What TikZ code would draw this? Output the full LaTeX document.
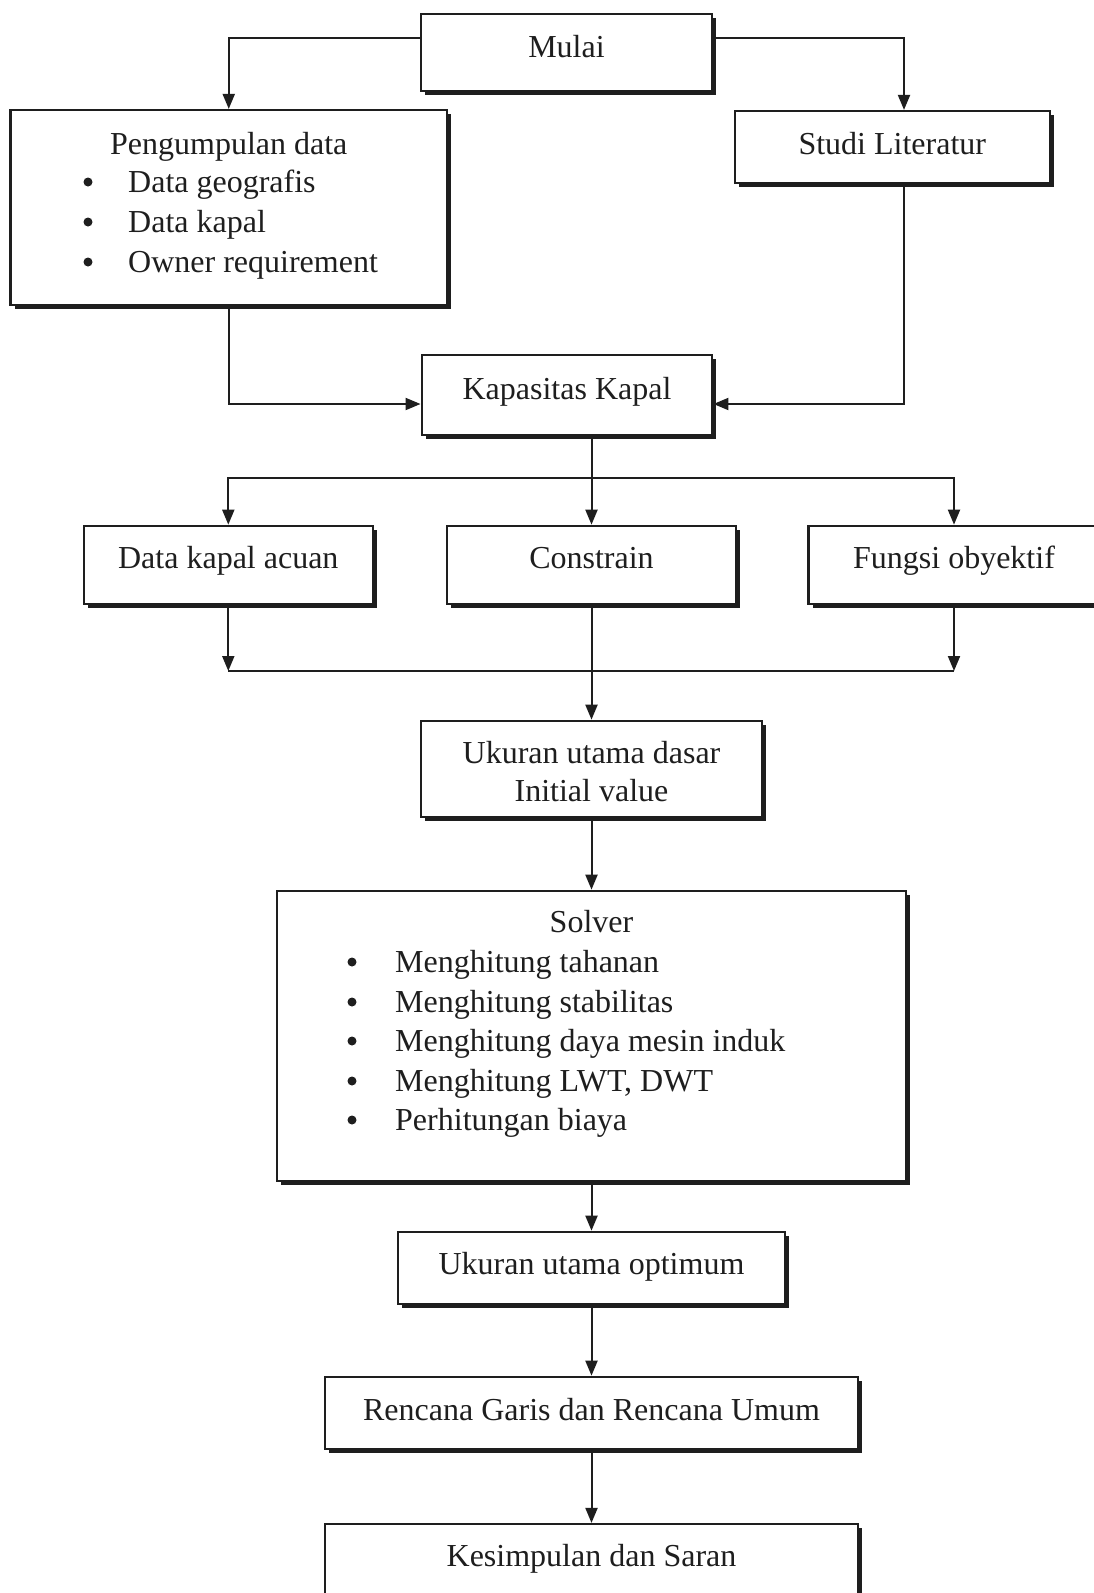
\documentclass[tikz,border=0pt]{standalone}
\usepackage{fontspec}
\setmainfont{Liberation Serif}
\usetikzlibrary{arrows.meta,shadows}
\definecolor{ink}{HTML}{1E1E1E}
\begin{document}
\begin{tikzpicture}[x=1pt,y=-1pt,
  box/.style={draw=ink,line width=2.2pt,fill=white,rectangle,inner sep=0pt,
    drop shadow={shadow xshift=4pt,shadow yshift=-4pt,fill=ink,opacity=1}},
  txt/.style={font=\fontsize{32}{40}\selectfont,text=ink,inner sep=0pt},
  dot/.style={circle,fill=ink,inner sep=0pt,minimum size=9pt},
  arr/.style={draw=ink,line width=2pt,-{Triangle[length=15pt,width=12pt]}},
  ln/.style={draw=ink,line width=2pt}]
\useasboundingbox (0,0) rectangle (1093,1593);
\fill[white] (0,0) rectangle (1093,1593);

% boxes
\node[box,minimum width=291pt,minimum height=77pt] (mulai) at (566.5,52.5) {};
\node[box,minimum width=436.5pt,minimum height=195pt] (peng) at (228.75,207.5) {};
\node[box,minimum width=315.4pt,minimum height=72pt] (studi) at (892.3,147) {};
\node[box,minimum width=290.7pt,minimum height=80pt] (kap) at (567,395) {};
\node[box,minimum width=289.4pt,minimum height=78.3pt] (acuan) at (228.3,564.9) {};
\node[box,minimum width=289pt,minimum height=78.3pt] (cons) at (591.5,564.9) {};
\node[box,minimum width=291pt,minimum height=78.3pt] (fungsi) at (954,564.9) {};
\node[box,minimum width=340.5pt,minimum height=96.3pt] (dasar) at (591.5,768.9) {};
\node[box,minimum width=629.2pt,minimum height=290.3pt] (solver) at (591.5,1035.9) {};
\node[box,minimum width=387pt,minimum height=72.3pt] (optimum) at (591.5,1267.9) {};
\node[box,minimum width=533.4pt,minimum height=72.3pt] (rencana) at (591.5,1412.9) {};
\node[box,minimum width=533.4pt,minimum height=76pt] (kesimpulan) at (591.5,1562) {};

% texts
\node[txt,anchor=mid] (tmulai) at (566.5,55) {Mulai};
\node[txt,anchor=mid] (tpeng) at (228.75,152) {Pengumpulan data};
\node[dot] (bp1) at (88,182) {};
\node[dot] (bp2) at (88,222) {};
\node[dot] (bp3) at (88,262) {};
\node[txt,anchor=mid west] (ip1) at (128,190) {Data geografis};
\node[txt,anchor=mid west] (ip2) at (128,230) {Data kapal};
\node[txt,anchor=mid west] (ip3) at (128,270) {Owner requirement};
\node[txt,anchor=mid] (tstudi) at (892.3,152) {Studi Literatur};
\node[txt,anchor=mid] (tkap) at (567,397) {Kapasitas Kapal};
\node[txt,anchor=mid] (tacuan) at (228.3,566) {Data kapal acuan};
\node[txt,anchor=mid] (tcons) at (591.5,566) {Constrain};
\node[txt,anchor=mid] (tfungsi) at (954,566) {Fungsi obyektif};
\node[txt,anchor=mid] (tdasar1) at (591.5,761) {Ukuran utama dasar};
\node[txt,anchor=mid] (tdasar2) at (591.5,799) {Initial value};
\node[txt,anchor=mid] (tsolver) at (591.5,930) {Solver};
\node[dot] (bs1) at (352,962) {};
\node[dot] (bs2) at (352,1002) {};
\node[dot] (bs3) at (352,1041) {};
\node[dot] (bs4) at (352,1081) {};
\node[dot] (bs5) at (352,1120) {};
\node[txt,anchor=mid west] (is1) at (395,970) {Menghitung tahanan};
\node[txt,anchor=mid west] (is2) at (395,1010) {Menghitung stabilitas};
\node[txt,anchor=mid west] (is3) at (395,1049) {Menghitung daya mesin induk};
\node[txt,anchor=mid west] (is4) at (395,1089) {Menghitung LWT, DWT};
\node[txt,anchor=mid west] (is5) at (395,1128) {Perhitungan biaya};
\node[txt,anchor=mid] (toptimum) at (591.5,1272) {Ukuran utama optimum};
\node[txt,anchor=mid] (trencana) at (591.5,1418) {Rencana Garis dan Rencana Umum};
\node[txt,anchor=mid] (tkesimpulan) at (591.5,1564) {Kesimpulan dan Saran};

% helper coordinates
\coordinate (yA) at (0,38);
\coordinate (xR) at (904,0);
\coordinate (yK) at (0,404);
\coordinate (yB) at (0,478);
\coordinate (yC) at (0,671);
\coordinate (jB) at (cons.north |- yB);

% connectors
\draw[arr] (mulai.west |- yA) -| (peng.north);
\draw[arr] (mulai.east |- yA) -| (studi.north -| xR);
\draw[arr] (peng.south) |- (kap.west |- yK);
\draw[arr] (studi.south -| xR) |- (kap.east |- yK);
\draw[arr] (kap.south -| cons.north) -- (cons.north);
\draw[arr] (jB) -| (acuan.north);
\draw[arr] (jB) -| (fungsi.north);
\draw[arr] (acuan.south) -- (acuan.south |- yC);
\draw[arr] (fungsi.south) -- (fungsi.south |- yC);
\draw[ln] (acuan.south |- yC) -- (fungsi.south |- yC);
\draw[arr] (cons.south) -- (dasar.north);
\draw[arr] (dasar.south) -- (solver.north);
\draw[arr] (solver.south) -- (optimum.north);
\draw[arr] (optimum.south) -- (rencana.north);
\draw[arr] (rencana.south) -- (kesimpulan.north);
\end{tikzpicture}
\end{document}
